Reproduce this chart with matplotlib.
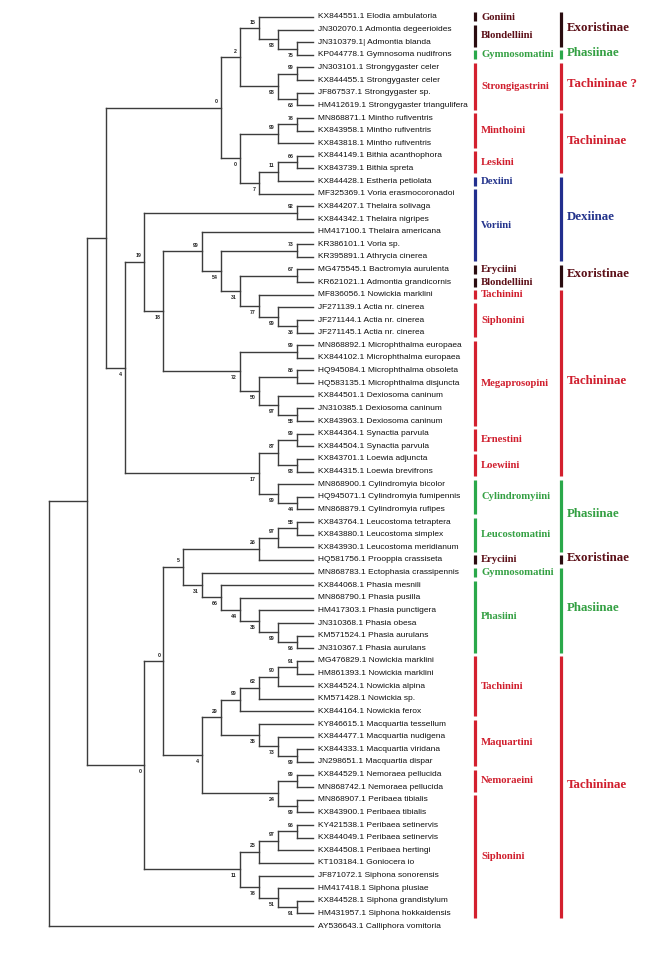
import matplotlib
matplotlib.use("Agg")
import matplotlib.pyplot as plt

# leaf labels, top to bottom
taxa = [
    "KX844551.1 Elodia ambulatoria", "JN302070.1 Admontia degeerioides",
    "JN310379.1| Admontia blanda", "KP044778.1 Gymnosoma nudifrons",
    "JN303101.1 Strongygaster celer", "KX844455.1 Strongygaster celer",
    "JF867537.1 Strongygaster sp.", "HM412619.1 Strongygaster triangulifera",
    "MN868871.1 Mintho rufiventris", "KX843958.1 Mintho rufiventris",
    "KX843818.1 Mintho rufiventris", "KX844149.1 Bithia acanthophora",
    "KX843739.1 Bithia spreta", "KX844428.1 Estheria petiolata",
    "MF325369.1 Voria erasmocoronadoi", "KX844207.1 Thelaira solivaga",
    "KX844342.1 Thelaira nigripes", "HM417100.1 Thelaira americana",
    "KR386101.1 Voria sp.", "KR395891.1 Athrycia cinerea",
    "MG475545.1 Bactromyia aurulenta", "KR621021.1 Admontia grandicornis",
    "MF836056.1 Nowickia marklini", "JF271139.1 Actia nr. cinerea",
    "JF271144.1 Actia nr. cinerea", "JF271145.1 Actia nr. cinerea",
    "MN868892.1 Microphthalma europaea", "KX844102.1 Microphthalma europaea",
    "HQ945084.1 Microphthalma obsoleta", "HQ583135.1 Microphthalma disjuncta",
    "KX844501.1 Dexiosoma caninum", "JN310385.1 Dexiosoma caninum",
    "KX843963.1 Dexiosoma caninum", "KX844364.1 Synactia parvula",
    "KX844504.1 Synactia parvula", "KX843701.1 Loewia adjuncta",
    "KX844315.1 Loewia brevifrons", "MN868900.1 Cylindromyia bicolor",
    "HQ945071.1 Cylindromyia fumipennis", "MN868879.1 Cylindromyia rufipes",
    "KX843764.1 Leucostoma tetraptera", "KX843880.1 Leucostoma simplex",
    "KX843930.1 Leucostoma meridianum", "HQ581756.1 Prooppia crassiseta",
    "MN868783.1 Ectophasia crassipennis", "KX844068.1 Phasia mesnili",
    "MN868790.1 Phasia pusilla", "HM417303.1 Phasia punctigera",
    "JN310368.1 Phasia obesa", "KM571524.1 Phasia aurulans",
    "JN310367.1 Phasia aurulans", "MG476829.1 Nowickia marklini",
    "HM861393.1 Nowickia marklini", "KX844524.1 Nowickia alpina",
    "KM571428.1 Nowickia sp.", "KX844164.1 Nowickia ferox",
    "KY846615.1 Macquartia tessellum", "KX844477.1 Macquartia nudigena",
    "KX844333.1 Macquartia viridana", "JN298651.1 Macquartia dispar",
    "KX844529.1 Nemoraea pellucida", "MN868742.1 Nemoraea pellucida",
    "MN868907.1 Peribaea tibialis", "KX843900.1 Peribaea tibialis",
    "KY421538.1 Peribaea setinervis", "KX844049.1 Peribaea setinervis",
    "KX844508.1 Peribaea hertingi", "KT103184.1 Goniocera io",
    "JF871072.1 Siphona sonorensis", "HM417418.1 Siphona plusiae",
    "KX844528.1 Siphona grandistylum", "HM431957.1 Siphona hokkaidensis",
    "AY536643.1 Calliphora vomitoria",
]

# tree in newick form: tips are leaf numbers (1-based), internal labels are bootstrap values
clade_2 = "((1:3,(2:2,(3:1,4:1)75:1)98:1)15:1,((5:1,6:1)99:1,(7:1,8:1)63:1)98:2)2"
clade_0b = "(((9:1,10:1)78:1,11:2)99:2,(((12:1,13:1)66:1,14:2)11:1,15:3)7:1)0"
clade_0a = "(" + clade_2 + ":1," + clade_0b + ":1)0"
clade_99t = "(18:6,((19:1,20:1)73:4,((21:1,22:1)67:3,(23:3,(24:2,(25:1,26:1)36:1)99:1)77:1)31:1)54:1)99"
clade_72 = "((27:1,28:1)99:3,((29:1,30:1)86:2,(31:2,(32:1,33:1)58:1)97:1)50:1)72"
clade_18 = "(" + clade_99t + ":2," + clade_72 + ":4)18"
clade_19 = "((16:1,17:1)92:8," + clade_18 + ":1)19"
clade_17 = "(((34:1,35:1)99:1,(36:1,37:1)98:1)87:1,(38:2,(39:1,40:1)44:1)99:1)17"
clade_4a = "(" + clade_19 + ":1," + clade_17 + ":7)4"
clade_A = "(" + clade_0a + ":6," + clade_4a + ":1)"
clade_5 = ("((((41:1,42:1)58:1,43:2)97:1,44:3)26:4,"
           "(45:6,(46:5,(47:4,(48:3,(49:2,(50:1,51:1)96:1)99:1)35:1)44:1)66:1)31:1)5")
clade_29 = "(((((52:1,53:1)91:1,54:2)90:1,55:3)62:1,56:4)99:1,(57:3,(58:2,(59:1,60:1)99:1)73:1)35:2)29"
clade_24 = "((61:1,62:1)99:1,(63:1,64:1)99:1)24"
clade_4b = "(" + clade_29 + ":1," + clade_24 + ":4)4"
clade_0c = "(" + clade_5 + ":1," + clade_4b + ":2)0"
clade_11 = "((((65:1,66:1)96:1,67:2)97:1,68:3)25:1,(69:3,(70:2,(71:1,72:1)91:1)51:1)78:1)11"
clade_C = "(" + clade_0c + ":1," + clade_11 + ":5)0"
clade_B = "(" + clade_A + ":1," + clade_C + ":3)"
newick = "(" + clade_B + ":2,73:14);"

# tribe bars (leaf ranges, 1-based) and their subfamily colour group
tribe_names = ["Goniini", "Blondelliini", "Gymnosomatini", "Strongigastrini", "Minthoini",
               "Leskini", "Dexiini", "Voriini", "Eryciini", "Blondelliini", "Tachinini",
               "Siphonini", "Megaprosopini", "Ernestini", "Loewiini", "Cylindromyiini",
               "Leucostomatini", "Eryciini", "Gymnosomatini", "Phasiini", "Tachinini",
               "Maquartini", "Nemoraeini", "Siphonini"]
tribe_first = [1, 2, 4, 5, 9, 12, 14, 15, 21, 22, 23, 24, 27, 34, 36, 38, 41, 44, 45, 46, 52, 57, 61, 63]
tribe_last = [1, 3, 4, 8, 11, 13, 14, 20, 21, 22, 23, 26, 33, 35, 37, 40, 43, 44, 45, 51, 56, 60, 62, 72]
tribe_group = ["exo", "exo", "pha", "tac", "tac", "tac", "dex", "dex", "exo", "exo", "tac",
               "tac", "tac", "tac", "tac", "pha", "pha", "exo", "pha", "pha", "tac", "tac", "tac", "tac"]

subfam_names = ["Exoristinae", "Phasiinae", "Tachininae ?", "Tachininae", "Dexiinae", "Exoristinae",
                "Tachininae", "Phasiinae", "Exoristinae", "Phasiinae", "Tachininae"]
subfam_first = [1, 4, 5, 9, 14, 21, 23, 38, 44, 45, 52]
subfam_last = [3, 4, 8, 13, 20, 22, 37, 43, 44, 51, 72]
subfam_group = ["exo", "pha", "tac", "tac", "dex", "exo", "tac", "pha", "exo", "pha", "tac"]

bar_col = {"exo": "#2a0c10", "pha": "#2aa84a", "tac": "#d3202f", "dex": "#222f8e"}
txt_col = {"exo": "#5c1018", "pha": "#34a043", "tac": "#d01f2e", "dex": "#24348c"}


def parse(s):
    pos = 0

    def node():
        nonlocal pos
        n = {"children": [], "label": "", "length": 0.0}
        if s[pos] == "(":
            pos += 1
            while True:
                n["children"].append(node())
                if s[pos] == ",":
                    pos += 1
                    continue
                pos += 1
                break
        start = pos
        while s[pos] not in ":,);":
            pos += 1
        n["label"] = s[start:pos]
        if s[pos] == ":":
            pos += 1
            start = pos
            while s[pos] not in ",);":
                pos += 1
            n["length"] = float(s[start:pos])
        return n

    return node()


tree = parse(newick)

W, H = 658, 955
fig = plt.figure(figsize=(W / 100, H / 100), dpi=100)
ax = fig.add_axes([0, 0, 1, 1])
ax.set_xlim(0, W)
ax.set_ylim(H, 0)
ax.axis("off")

root_x, tip_x = 49, 316
unit = (tip_x - root_x) / 14.0
top_y, bot_y = 17, 926
row = (bot_y - top_y) / (len(taxa) - 1)
leaf_y = [top_y + i * row for i in range(len(taxa))]

line_kw = dict(color="#3c3c3c", lw=1.0, solid_capstyle="projecting")
sans = ["Liberation Sans", "DejaVu Sans"]
serif = ["Liberation Serif", "DejaVu Serif"]


def draw(n, depth):
    n["x"] = root_x + depth * unit
    if not n["children"]:
        k = int(n["label"]) - 1
        n["y"] = leaf_y[k]
        ax.text(tip_x + 2, n["y"], taxa[k], fontsize=6.0, family=sans,
                va="center", ha="left", color="#111111")
        return
    for c in n["children"]:
        draw(c, depth + c["length"])
    kids = n["children"]
    n["y"] = (kids[0]["y"] + kids[-1]["y"]) / 2
    ax.plot([n["x"], n["x"]], [kids[0]["y"], kids[-1]["y"]], **line_kw)
    for i, c in enumerate(kids):
        x_end = c["x"] if c["children"] else c["x"] - 3
        ax.plot([n["x"], x_end], [c["y"], c["y"]], **line_kw)
        if c["children"] and c["label"]:
            dy = -6 if i == 0 else 6.5
            ax.text(c["x"] - 3, c["y"] + dy, c["label"], fontsize=3.8, family=sans,
                    fontweight="bold", ha="right", va="center", color="#222222")


draw(tree, 0.0)

# tribe column
for name, a, b, g in zip(tribe_names, tribe_first, tribe_last, tribe_group):
    y0, y1 = leaf_y[a - 1] - 4.5, leaf_y[b - 1] + 4.5
    ax.plot([475, 475], [y0, y1], color=bar_col[g], lw=2.3, solid_capstyle="butt")
    ax.text(481, (y0 + y1) / 2, name, fontsize=7.7, family=serif, fontweight="bold",
            color=txt_col[g], va="center", ha="left")

# subfamily column
for name, a, b, g in zip(subfam_names, subfam_first, subfam_last, subfam_group):
    y0, y1 = leaf_y[a - 1] - 4.5, leaf_y[b - 1] + 4.5
    ax.plot([561, 561], [y0, y1], color=bar_col[g], lw=2.3, solid_capstyle="butt")
    ax.text(567, (y0 + y1) / 2 - 2, name, fontsize=9.3, family=serif, fontweight="bold",
            color=txt_col[g], va="center", ha="left")

fig.savefig("out.png", dpi=100, facecolor="white")
